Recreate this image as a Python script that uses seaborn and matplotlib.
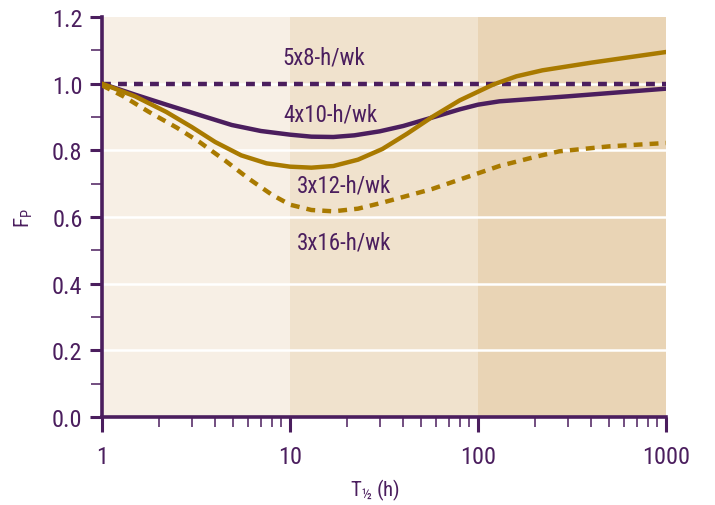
import matplotlib
matplotlib.use("Agg")
import matplotlib.pyplot as plt
import seaborn as sns
import pandas as pd
from matplotlib.ticker import FixedLocator, NullFormatter

# ---- data ----
t_5x8 = [1, 1000]
fp_5x8 = [1.0, 1.0]

t_4x10 = [1, 1.5, 2.2, 3.3, 4.9, 7, 10, 13, 17, 22, 30, 40, 60, 80, 100, 130, 300, 1000]
fp_4x10 = [1.0, 0.967, 0.937, 0.906, 0.876, 0.858, 0.847, 0.841, 0.840, 0.845, 0.857,
           0.873, 0.902, 0.923, 0.937, 0.947, 0.962, 0.985]

t_3x12 = [1, 1.5, 2.2, 3, 4, 5.5, 7.5, 10, 13, 17, 23, 31, 42, 57, 80, 120, 160, 220,
          400, 1000]
fp_3x12 = [1.0, 0.962, 0.915, 0.87, 0.825, 0.785, 0.761, 0.751, 0.748, 0.753, 0.772,
           0.804, 0.85, 0.90, 0.95, 0.997, 1.022, 1.04, 1.063, 1.095]

t_3x16 = [1, 1.3, 1.78, 2.5, 3.3, 4.5, 6, 8, 10, 13, 17, 23, 31, 57, 130, 200, 270,
          500, 1000]
fp_3x16 = [0.995, 0.962, 0.915, 0.868, 0.825, 0.77, 0.716, 0.667, 0.637, 0.621, 0.617,
           0.625, 0.643, 0.684, 0.753, 0.78, 0.797, 0.812, 0.822]

labels = ["5x8-h/wk", "4x10-h/wk", "3x12-h/wk", "3x16-h/wk"]
label_x = [15.1, 16.5, 19.4, 19.4]
label_y = [1.08, 0.909, 0.696, 0.525]

x_ticks = [1, 10, 100, 1000]
x_ticklabels = ["1", "10", "100", "1000"]
y_ticks = [0.0, 0.2, 0.4, 0.6, 0.8, 1.0, 1.2]
y_ticklabels = ["0.0", "0.2", "0.4", "0.6", "0.8", "1.0", "1.2"]

bands = [(1, 10), (10, 100), (100, 1000)]
band_colors = ["#F7EFE5", "#F0E2CD", "#E9D4B5"]

PURPLE = "#4B1E5E"
GOLD = "#A97A00"

sns.set_style("white")
FONT = ["Roboto Condensed", "DejaVu Sans"]
plt.rcParams["font.family"] = FONT
plt.rcParams["mathtext.fontset"] = "custom"
plt.rcParams["mathtext.rm"] = "Roboto Condensed"
plt.rcParams["mathtext.it"] = "Roboto Condensed"

frames = []
for name, t, fp in [("5x8", t_5x8, fp_5x8), ("4x10", t_4x10, fp_4x10),
                    ("3x12", t_3x12, fp_3x12), ("3x16", t_3x16, fp_3x16)]:
    frames.append(pd.DataFrame({"T": t, "FP": fp, "sched": name}))
df = pd.concat(frames, ignore_index=True)

fig = plt.figure(figsize=(7.15, 5.06), dpi=100)
ax = fig.add_axes([102 / 715, 88 / 506, 564 / 715, 400 / 506])

for (a, b), c in zip(bands, band_colors):
    ax.axvspan(a, b, color=c, zorder=0, lw=0)
for yv in [0.2, 0.4, 0.6, 0.8, 1.0]:
    ax.axhline(yv, color="white", lw=1.8, zorder=1)

sns.lineplot(data=df, x="T", y="FP", hue="sched", style="sched",
             palette={"5x8": PURPLE, "4x10": PURPLE, "3x12": GOLD, "3x16": GOLD},
             dashes={"5x8": (2.0, 1.6), "4x10": "", "3x12": "", "3x16": (2.0, 1.6)},
             linewidth=3.2, legend=False, ax=ax, zorder=3, sort=False)

ax.set_xscale("log")
ax.set_xlim(1, 1000)
ax.set_ylim(0, 1.2)

for lab, lx, ly in zip(labels, label_x, label_y):
    ax.text(lx, ly, lab, color=PURPLE, fontsize=16.5, ha="center", va="center", zorder=4)

ax.xaxis.set_major_locator(FixedLocator(x_ticks))
ax.set_xticklabels(x_ticklabels)
minor_x = [m * 10 ** d for d in range(3) for m in range(2, 10)]
ax.xaxis.set_minor_locator(FixedLocator(minor_x))
ax.xaxis.set_minor_formatter(NullFormatter())
ax.yaxis.set_major_locator(FixedLocator(y_ticks))
ax.set_yticklabels(y_ticklabels)
ax.yaxis.set_minor_locator(FixedLocator([0.1, 0.3, 0.5, 0.7, 0.9, 1.1]))

for s in ["top", "right"]:
    ax.spines[s].set_visible(False)
for s in ["left", "bottom"]:
    ax.spines[s].set_color(PURPLE)
    ax.spines[s].set_linewidth(2.6)

ax.tick_params(axis="both", which="both", bottom=True, left=True, top=False, right=False)
ax.tick_params(axis="both", which="major", direction="out", color=PURPLE,
               labelcolor=PURPLE, labelsize=17.5, width=2.2, length=9, pad=5)
ax.tick_params(axis="x", which="major", length=11, pad=9)
ax.tick_params(axis="y", which="minor", direction="out", color=PURPLE,
               width=1.1, length=8)
ax.tick_params(axis="x", which="minor", direction="out", color=PURPLE,
               width=1.1, length=7)

ax.set_xlabel("T$_{½}$ (h)", color=PURPLE, fontsize=15, labelpad=5)
ax.xaxis.set_label_coords(0.485, -0.148)
ax.set_ylabel("F$_{\\mathrm{P}}$", color=PURPLE, fontsize=15, labelpad=12)

fig.savefig("out.png", dpi=100)
